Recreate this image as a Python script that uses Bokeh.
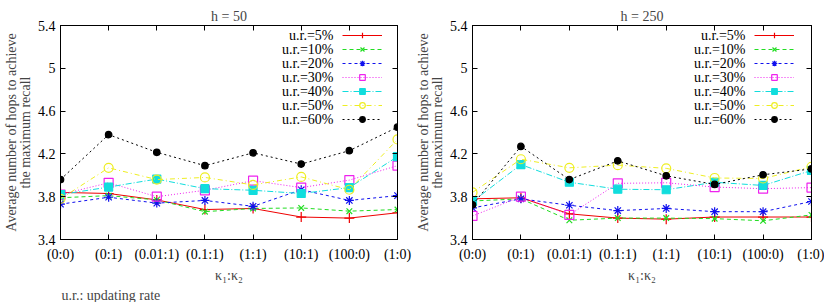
from bokeh.plotting import figure
from bokeh.models import Range1d, FixedTicker, LinearAxis, Label, Legend, LegendItem, Title
from bokeh.core.properties import value
from bokeh.layouts import row
from bokeh.embed import file_html
from bokeh.resources import INLINE

# ---------------- data ----------------
categories = ["(0:0)", "(0:1)", "(0.01:1)", "(0.1:1)", "(1:1)", "(10:1)", "(100:0)", "(1:0)"]
series_labels = ["u.r.=5%", "u.r.=10%", "u.r.=20%", "u.r.=30%", "u.r.=40%", "u.r.=50%", "u.r.=60%"]
y_ticks = [3.4, 3.8, 4.2, 4.6, 5.0, 5.4]
y_tick_labels = ["3.4", "3.8", "4.2", "4.6", "5", "5.4"]

# h = 50
h50_ur5 = [3.84, 3.83, 3.77, 3.68, 3.69, 3.61, 3.60, 3.65]
h50_ur10 = [3.79, 3.81, 3.77, 3.66, 3.69, 3.695, 3.665, 3.68]
h50_ur20 = [3.73, 3.795, 3.74, 3.765, 3.71, 3.865, 3.765, 3.81]
h50_ur30 = [3.82, 3.93, 3.80, 3.86, 3.95, 3.885, 3.955, 4.09]
h50_ur40 = [3.82, 3.89, 3.965, 3.875, 3.86, 3.83, 3.885, 4.175]
h50_ur50 = [3.78, 4.07, 3.96, 3.98, 3.91, 3.985, 3.865, 4.335]
h50_ur60 = [3.96, 4.38, 4.215, 4.09, 4.21, 4.105, 4.23, 4.45]

# h = 250
h250_ur5 = [3.78, 3.79, 3.64, 3.60, 3.59, 3.61, 3.61, 3.61]
h250_ur10 = [3.76, 3.78, 3.58, 3.60, 3.60, 3.595, 3.575, 3.63]
h250_ur20 = [3.695, 3.78, 3.72, 3.67, 3.69, 3.66, 3.66, 3.755]
h250_ur30 = [3.62, 3.80, 3.63, 3.925, 3.93, 3.89, 3.875, 3.885]
h250_ur40 = [3.755, 4.10, 3.935, 3.87, 3.865, 3.935, 3.905, 4.045]
h250_ur50 = [3.84, 4.15, 4.07, 4.095, 4.065, 3.975, 3.97, 4.08]
h250_ur60 = [3.725, 4.27, 3.96, 4.135, 3.995, 3.915, 4.005, 4.06]

h50_series = [h50_ur5, h50_ur10, h50_ur20, h50_ur30, h50_ur40, h50_ur50, h50_ur60]
h250_series = [h250_ur5, h250_ur10, h250_ur20, h250_ur30, h250_ur40, h250_ur50, h250_ur60]

# ---------------- styles ----------------
FONT = "Liberation Serif"
FS = "14px"
colors = ["#ee0000", "#22dd22", "#1010ee", "#ee22ee", "#11dddd", "#eeee22", "#000000"]
dashes = ["solid", "4 3", "3 3", "1 2", "6 2 1 2", "5 3 1 3", "2 3"]
markers = ["cross", "x", "asterisk", "square", "square", "circle", "circle"]
filled = [True, True, True, False, True, False, True]
msizes = [10, 8, 9, 9, 8, 9, 6.5]

FRAME_H = 217
TOP = 25
BOTTOM = 60


def style_axis(ax, labels=True):
    ax.axis_line_color = "black"
    ax.axis_line_width = 1
    ax.major_tick_line_color = "black"
    ax.major_tick_in = 5
    ax.major_tick_out = 0
    ax.minor_tick_line_color = None
    ax.major_label_text_font = FONT
    ax.major_label_text_font_size = FS
    ax.major_label_text_color = "black"
    if not labels:
        ax.major_label_standoff = 0


def make_panel(title, series, left, frame_w, right, note=None):
    p = figure(width=left + frame_w + right, height=TOP + FRAME_H + BOTTOM,
               x_range=Range1d(0, len(categories) - 1), y_range=Range1d(y_ticks[0], y_ticks[-1]),
               output_backend="svg", toolbar_location=None, tools="",
               x_axis_location=None, y_axis_location=None,
               min_border_left=left, min_border_right=right,
               min_border_top=TOP, min_border_bottom=BOTTOM)
    p.background_fill_color = "white"
    p.border_fill_color = "white"
    p.outline_line_color = "black"
    p.xgrid.visible = False
    p.ygrid.visible = False

    p.title.text = title
    p.title.align = "center"
    p.title.text_font = FONT
    p.title.text_font_size = FS
    p.title.text_font_style = "normal"
    p.title.standoff = 4

    xs = list(range(len(categories)))
    xticker = FixedTicker(ticks=xs)
    yticker = FixedTicker(ticks=y_ticks)
    xover = {i: c for i, c in enumerate(categories)}
    yover = {t: l for t, l in zip(y_ticks, y_tick_labels)}

    xb = LinearAxis(ticker=xticker, major_label_overrides=xover)
    style_axis(xb)
    xb.major_label_standoff = 7
    xb.axis_label = "κ₁:κ₂"
    xb.axis_label_text_font = FONT
    xb.axis_label_text_font_size = FS
    xb.axis_label_text_font_style = "normal"
    xb.axis_label_standoff = 3
    p.add_layout(xb, "below")

    yl = LinearAxis(ticker=yticker, major_label_overrides=yover)
    style_axis(yl)
    yl.major_label_standoff = 5
    yl.axis_label = "Average number of hops to achieve\nthe maximum recall"
    yl.axis_label_text_font = FONT
    yl.axis_label_text_font_size = FS
    yl.axis_label_text_font_style = "normal"
    yl.axis_label_text_line_height = 0.95
    yl.axis_label_standoff = 2
    p.add_layout(yl, "left")

    xt = LinearAxis(ticker=xticker, major_label_overrides={i: "" for i in xs})
    style_axis(xt, labels=False)
    p.add_layout(xt, "above")
    yr = LinearAxis(ticker=yticker, major_label_overrides={t: "" for t in y_ticks})
    style_axis(yr, labels=False)
    p.add_layout(yr, "right")

    items = []
    for i, ys in enumerate(series):
        lr = p.line(xs, ys, line_color=colors[i], line_width=1, line_dash=dashes[i])
        sr = p.scatter(xs, ys, marker=markers[i], size=msizes[i], line_color=colors[i],
                       line_width=1.2, fill_color=colors[i] if filled[i] else None)
        items.append(LegendItem(label=value(""), renderers=[lr, sr]))

    leg = Legend(items=items, location=(282, FRAME_H - 129.3 + TOP), orientation="vertical",
                 glyph_width=40, glyph_height=14, label_height=14, label_width=0,
                 label_standoff=0, spacing=0, padding=0, margin=0,
                 label_text_font_size="6px",
                 border_line_alpha=0, background_fill_alpha=0)
    p.add_layout(leg, "center")

    for i, s in enumerate(series_labels):
        p.add_layout(Label(x=273, y=FRAME_H + TOP - (38.3 + 14 * i),
                           x_units="screen", y_units="screen", text=s,
                           text_align="right", text_baseline="middle",
                           text_font=FONT, text_font_size=FS, text_color="black"))

    if note:
        t = Title(text=note, align="left", text_font=FONT, text_font_size=FS,
                  text_font_style="normal", standoff=0, offset=1)
        p.add_layout(t, "below")
    return p


p1 = make_panel("h = 50", h50_series, 58, 339, 15, note="u.r.: updating rate")
p2 = make_panel("h = 250", h250_series, 59, 340, 13)

layout = row(p1, p2)
open("out.html", "w").write(file_html(layout, INLINE))
